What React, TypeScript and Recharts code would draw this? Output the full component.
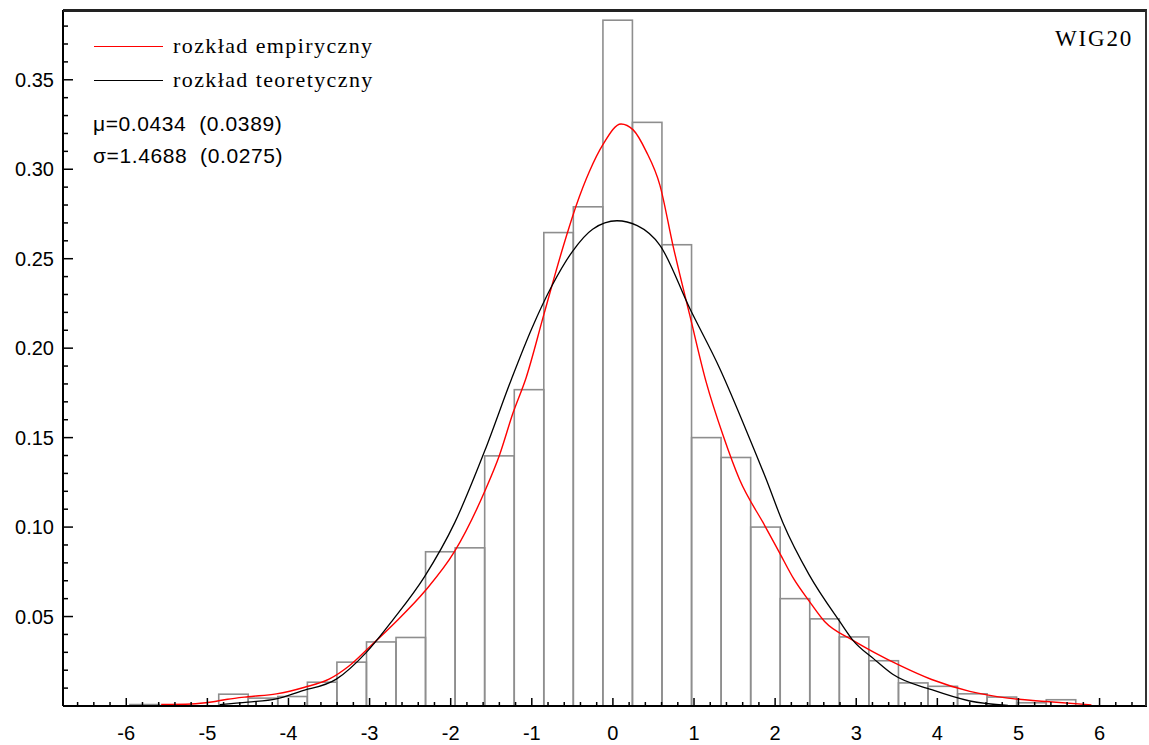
import React from 'react';
import { ComposedChart, Bar, Line, XAxis, YAxis, Legend } from 'recharts';

// Histogram bins (centres of 32 equal-width classes) and their densities
const binCenters = [
  -5.772, -5.407, -5.043, -4.678, -4.314, -3.95, -3.585, -3.221, -2.856, -2.492, -2.128,
  -1.763, -1.399, -1.034, -0.67, -0.306, 0.059, 0.423, 0.788, 1.152, 1.517, 1.881,
  2.245, 2.61, 2.974, 3.339, 3.703, 4.067, 4.432, 4.796, 5.161, 5.525,
];
const binDensity = [
  0.0008, 0, 0, 0.0066, 0.0044, 0.0053, 0.0133, 0.0245, 0.0358, 0.0383, 0.0862,
  0.0884, 0.1398, 0.1768, 0.2646, 0.279, 0.3833, 0.3262, 0.2578, 0.15, 0.1389, 0.1,
  0.06, 0.0487, 0.0386, 0.0253, 0.0129, 0.011, 0.0068, 0.005, 0.0018, 0.0035,
];

// Empirical (kernel) density – red curve
const empX = [
  -5.57, -5.2, -4.95, -4.75, -4.5, -4.15, -3.8, -3.5, -3.25, -3.0, -2.7, -2.32, -1.95,
  -1.58, -1.4, -1.23, -1.07, -0.85, -0.62, -0.45, -0.29, -0.12, 0.1, 0.25, 0.41, 0.58,
  0.74, 0.95, 1.15, 1.36, 1.56, 1.87, 2.05, 2.23, 2.42, 2.61, 2.96, 3.22, 3.55, 3.93,
  4.4, 4.87, 5.34, 5.9,
];
const empY = [
  0.0008, 0.0011, 0.0022, 0.0038, 0.0052, 0.0068, 0.0105, 0.015, 0.0225, 0.033, 0.046,
  0.0641, 0.0865, 0.12, 0.14, 0.164, 0.1835, 0.219, 0.2557, 0.28, 0.2987, 0.314, 0.3253,
  0.322, 0.31, 0.291, 0.2575, 0.218, 0.181, 0.151, 0.1267, 0.101, 0.086, 0.071, 0.0586,
  0.0472, 0.0367, 0.03, 0.0224, 0.0148, 0.0082, 0.0044, 0.0025, 0.0006,
];

// Theoretical density – black curve
const theoX = [
  -4.85, -4.5, -4.15, -3.86, -3.41, -3.04, -2.71, -2.32, -1.95, -1.58, -1.25, -1.0,
  -0.75, -0.5, -0.25, 0.05, 0.3, 0.58, 0.95, 1.32, 1.69, 1.89, 2.1, 2.42, 2.8, 2.96,
  3.22, 3.45, 3.93, 4.4, 4.87,
];
const theoY = [
  0.0008, 0.0022, 0.004, 0.0081, 0.015, 0.03, 0.0483, 0.0725, 0.1025, 0.1426, 0.1828,
  0.211, 0.235, 0.254, 0.2665, 0.2712, 0.2685, 0.2575, 0.222, 0.1884, 0.149, 0.1267,
  0.102, 0.0733, 0.047, 0.0367, 0.0262, 0.0177, 0.0091, 0.0028, 0.0003,
];

const seriesNames = ['rozkład empiryczny', 'rozkład teoretyczny'];
const statLines = ['μ=0.0434  (0.0389)', 'σ=1.4688  (0.0275)'];
const chartTitle = 'WIG20';

const xMajorTicks = [-6, -5, -4, -3, -2, -1, 0, 1, 2, 3, 4, 5, 6];
const yMajorTicks = [0.05, 0.1, 0.15, 0.2, 0.25, 0.3, 0.35];
const xDomain: [number, number] = [-6.78, 6.585];
const yDomain: [number, number] = [0, 0.389];

const binWidth = binCenters[1] - binCenters[0];

const histData = binCenters.map((x, i) => ({ x, h: binDensity[i] }));
const empData = empX.map((x, i) => ({ x, y: empY[i] }));
const theoData = theoX.map((x, i) => ({ x, y: theoY[i] }));

const xTicks: number[] = [];
for (let i = -33; i <= 32; i++) xTicks.push(Math.round(i * 2) / 10);
const yTicks: number[] = [];
for (let i = 1; i <= 38; i++) yTicks.push(i / 100);

const W = 1149;
const H = 745;
const margin = { top: 10, right: 2, bottom: 0, left: 0 };
const yAxisW = 63;
const xAxisH = 39;
const plotLeft = margin.left + yAxisW;
const plotTop = margin.top;
const plotW = W - margin.left - margin.right - yAxisW;
const plotH = H - plotTop - margin.bottom - xAxisH;
const barPx = (binWidth * plotW) / (xDomain[1] - xDomain[0]) - 0.12;

const sansFont = '"Liberation Sans", Arial, sans-serif';
const serifFont = '"Liberation Serif", "Times New Roman", serif';

const XTick = (props: any) => {
  const { x, y, payload } = props;
  const v = payload.value as number;
  const major = Math.abs(v - Math.round(v)) < 1e-6 && xMajorTicks.includes(Math.round(v));
  return (
    <g>
      <line x1={x} x2={x} y1={y} y2={y - (major ? 8 : 4)} stroke="#000" strokeWidth={1.5} />
      {major && (
        <text x={x} y={y + 34} textAnchor="middle" fontFamily={sansFont} fontSize={20} fill="#000">
          {String(Math.round(v))}
        </text>
      )}
    </g>
  );
};

const YTick = (props: any) => {
  const { x, y, payload } = props;
  const v = payload.value as number;
  const major = yMajorTicks.some((t) => Math.abs(t - v) < 1e-6);
  return (
    <g>
      <line x1={x} x2={x + (major ? 10 : 5)} y1={y} y2={y} stroke="#000" strokeWidth={1.5} />
      {major && (
        <text x={x - 9} y={y + 7} textAnchor="end" fontFamily={sansFont} fontSize={20} fill="#000">
          {v.toFixed(2)}
        </text>
      )}
    </g>
  );
};

const HistRect = (props: any) => {
  const { x, y, width, height } = props;
  if (!height || height <= 0.3) return null;
  return <rect x={x} y={y} width={width} height={height} fill="none" stroke="#8e8e8e" strokeWidth={1.6} />;
};

const LegendBox = (props: any) => {
  const payload = (props.payload || []).filter((p: any) => p.type !== 'none');
  return (
    <div style={{ color: '#000' }}>
      {payload.map((p: any) => (
        <div key={p.value} style={{ display: 'flex', alignItems: 'center', height: 34 }}>
          <div style={{ width: 69, height: 0, borderTop: `1.5px solid ${p.color}`, marginRight: 10 }} />
          <span style={{ fontFamily: serifFont, fontSize: 22, letterSpacing: 1.4, whiteSpace: 'pre' }}>{p.value}</span>
        </div>
      ))}
      <div style={{ height: 11 }} />
      {statLines.map((s) => (
        <div
          key={s}
          style={{ height: 32, lineHeight: '32px', fontFamily: sansFont, fontSize: 21, letterSpacing: 0.6, whiteSpace: 'pre', marginLeft: -1 }}
        >
          {s}
        </div>
      ))}
    </div>
  );
};

export default function App() {
  return (
    <div style={{ position: 'absolute', left: 0, top: 0, width: W, height: H, background: '#fff' }}>
      <ComposedChart width={W} height={H} data={histData} margin={margin} barCategoryGap={0} barGap={0}>
        <XAxis
          xAxisId="bottom"
          dataKey="x"
          type="number"
          domain={xDomain}
          allowDataOverflow
          ticks={xTicks}
          interval={0}
          tick={<XTick />}
          tickLine={false}
          tickSize={0}
          tickMargin={0}
          height={xAxisH}
          axisLine={{ stroke: '#000', strokeWidth: 2 }}
        />
        <XAxis xAxisId="top" dataKey="x" type="number" orientation="top" domain={xDomain} allowDataOverflow hide />
        <YAxis
          yAxisId="left"
          type="number"
          domain={yDomain}
          allowDataOverflow
          ticks={yTicks}
          interval={0}
          tick={<YTick />}
          tickLine={false}
          tickSize={0}
          tickMargin={0}
          width={yAxisW}
          axisLine={{ stroke: '#000', strokeWidth: 2 }}
        />
        <Legend
          layout="vertical"
          align="center"
          verticalAlign="middle"
          content={<LegendBox />}
          wrapperStyle={{ left: 94, top: 29, width: 'auto', height: 'auto' }}
        />
        <Bar
          xAxisId="bottom"
          yAxisId="left"
          dataKey="h"
          name="histogram"
          legendType="none"
          barSize={barPx}
          shape={<HistRect />}
          isAnimationActive={false}
        />
        <Line
          xAxisId="top"
          yAxisId="left"
          data={empData}
          dataKey="y"
          name={seriesNames[0]}
          type="monotone"
          stroke="#ff0000"
          strokeWidth={1.4}
          dot={false}
          activeDot={false}
          isAnimationActive={false}
        />
        <Line
          xAxisId="top"
          yAxisId="left"
          data={theoData}
          dataKey="y"
          name={seriesNames[1]}
          type="monotone"
          stroke="#000000"
          strokeWidth={1.3}
          dot={false}
          activeDot={false}
          isAnimationActive={false}
        />
      </ComposedChart>
      <div
        style={{
          position: 'absolute',
          left: plotLeft,
          top: plotTop - 1,
          width: plotW,
          height: plotH + 1,
          borderTop: '3px solid #222222',
          borderRight: '2px solid #333333',
          boxSizing: 'border-box',
          zIndex: 10,
          pointerEvents: 'none',
        }}
      />
      <div
        style={{
          position: 'absolute',
          right: 16,
          top: 26,
          fontFamily: serifFont,
          fontSize: 23,
          letterSpacing: 1.8,
          color: '#000',
          zIndex: 10,
        }}
      >
        {chartTitle}
      </div>
    </div>
  );
}
